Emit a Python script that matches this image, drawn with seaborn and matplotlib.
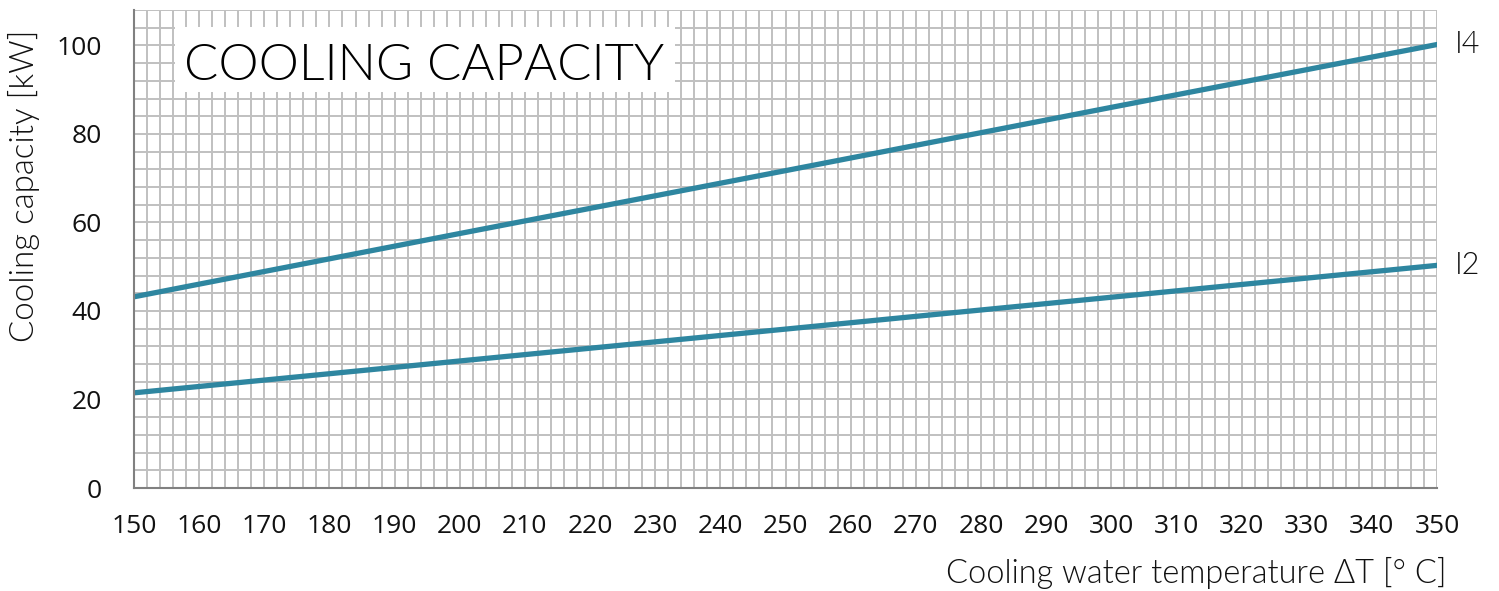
import matplotlib
matplotlib.use("Agg")
import matplotlib.pyplot as plt
import seaborn as sns
import pandas as pd
from matplotlib.ticker import MultipleLocator
from matplotlib.patches import Rectangle

temps = [150, 200, 250, 300, 350]
cap_i4 = [43.2, 57.5, 71.7, 86.0, 100.2]
cap_i2 = [21.5, 28.7, 35.9, 43.1, 50.3]
series_names = ["I4", "I2"]

df = pd.DataFrame({
    "temp": temps * 2,
    "cap": cap_i4 + cap_i2,
    "series": [series_names[0]] * len(temps) + [series_names[1]] * len(temps),
})

sns.set_style("white")
plt.rcParams['font.family'] = ['Lato', 'DejaVu Sans']

W, H = 1499, 591
fig = plt.figure(figsize=(W / 100, H / 100), dpi=100)
ax = fig.add_axes([134/W, 1 - 488/H, (1437-134)/W, (488-10)/H])

color = "#2E86A0"
sns.lineplot(data=df, x="temp", y="cap", hue="series", palette=[color, color],
             linewidth=3.8, legend=False, ax=ax, solid_capstyle="round")

ax.set_xlim(150, 350)
ax.set_ylim(0, 108)
ax.xaxis.set_major_locator(MultipleLocator(10))
ax.xaxis.set_minor_locator(MultipleLocator(2))
ax.yaxis.set_major_locator(MultipleLocator(20))
ax.yaxis.set_minor_locator(MultipleLocator(4))
ax.grid(True, which="both", color="#C0C0C0", linewidth=1.4)
ax.set_axisbelow(True)
for s in ["top", "right"]:
    ax.spines[s].set_visible(False)
for s in ["left", "bottom"]:
    ax.spines[s].set_color("#808080")
    ax.spines[s].set_linewidth(1.5)

ax.tick_params(axis="both", labelfontfamily="Open Sans")
ax.tick_params(axis="x", which="major", length=7, width=1.5, color="#808080",
               labelsize=19, pad=12, labelcolor="#111111")
ax.tick_params(axis="x", which="minor", length=0)
ax.tick_params(axis="y", which="major", length=7, width=1.5, color="#808080",
               labelsize=19, pad=16, labelcolor="#111111")
ax.tick_params(axis="y", which="minor", length=6, width=1.5, color="#808080")
ax.set_xlabel("")
ax.set_ylabel("")

def px(x, y):
    return x / W, 1 - y / H

renderer = fig.canvas.get_renderer()

def fit(t, target, vertical=False):
    bb = t.get_window_extent(renderer)
    cur = bb.height if vertical else bb.width
    t.set_fontsize(t.get_fontsize() * target / cur)

WT = 300

ylab = fig.text(*px(24, 186), "Cooling capacity [kW]", rotation=90,
                ha="center", va="center", fontsize=20, color="#111111",
                fontweight=WT)
fit(ylab, 312, vertical=True)

xlab = fig.text(*px(1447, 573), "Cooling water temperature ΔT [° C]",
                ha="right", va="center", fontsize=20, color="#111111",
                fontweight=WT)
fit(xlab, 502)

fig.patches.append(Rectangle(px(175, 92), (675-175)/W, (92-27)/H,
                             transform=fig.transFigure, facecolor="white",
                             edgecolor="none", zorder=5))
title = fig.text(*px(184, 62), "COOLING CAPACITY", ha="left", va="center_baseline",
                 fontsize=36, color="black", zorder=6, fontweight=WT)
fit(title, 481)

for name, vals in zip(series_names, [cap_i4, cap_i2]):
    ax.annotate(name, xy=(350, vals[-1]), xytext=(13, 0),
                textcoords="offset points", fontsize=22, va="center",
                annotation_clip=False, color="#111111", fontweight=WT)

fig.savefig("out.png", dpi=100)
